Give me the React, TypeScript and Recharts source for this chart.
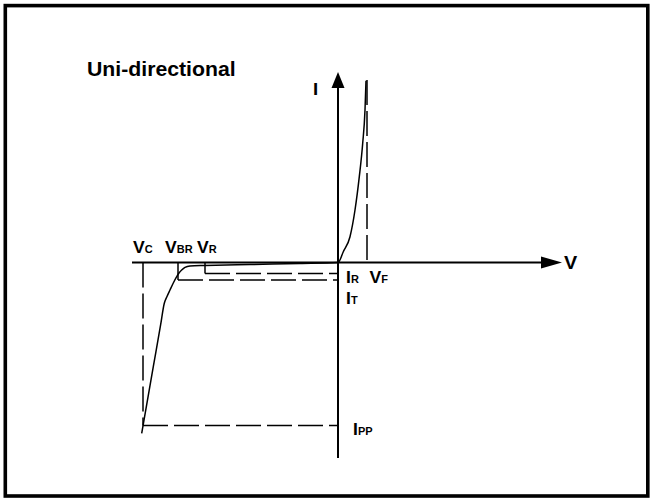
import React from 'react';
import { ComposedChart, Line, XAxis, YAxis, ReferenceLine, ReferenceDot } from 'recharts';

// V-I characteristic curve (arbitrary units)
const curveV = [-19.63, -18.47, -17.74, -17.37, -17.1, -16.8, -16.47, -16.13, -15.9, -15.63, -15.3, -14.8, -13.3, -8.8, -3.8, 0, 0.53, 1.2, 1.7, 2.13, 2.47, 2.7, 2.8];
const curveI = [-17.08, -10.42, -6.24, -4.08, -3.4, -2.75, -2.05, -1.42, -1.05, -0.75, -0.48, -0.35, -0.3, -0.2, -0.1, 0, 1.08, 2.58, 5.25, 8.58, 11.92, 15.25, 18.18];

// characteristic voltages
const V_C = -19.5;
const V_BR = -16.0;
const V_R = -13.3;
const V_F = 2.9;
// characteristic currents
const I_R = -1.1;
const I_T = -1.75;
const I_PP = -16.3;
const I_F = 18.25;

// axis extents and visible domain
const axisV = [-20.6, 22.4];
const axisI = [-19.55, 19.05];
const domainV = [-33.8, 31.3];
const domainI = [-23.55, 26.25];

// label texts
const labelMain = ['V', 'V', 'V', 'V', 'I', 'I', 'I', 'V', 'I'];
const labelSub = ['C', 'BR', 'R', 'F', 'R', 'T', 'PP', '', ''];
const title = 'Uni-directional';

const data = curveV.map((v, k) => ({ v, i: curveI[k] }));

const FONT = "'Liberation Sans', Arial, Helvetica, sans-serif";
const DASH = '25 6';

const hArrow = (len: number, half: number) => (p: any) => {
  const { x1, y1, x2, y2 } = p;
  return (
    <g>
      <line x1={x1} y1={y1} x2={x2 - len + 2} y2={y2} stroke="#000" strokeWidth={2} />
      <polygon points={`${x2},${y2} ${x2 - len},${y2 - half} ${x2 - len},${y2 + half}`} fill="#000" />
    </g>
  );
};

const vArrow = (len: number, half: number) => (p: any) => {
  const { x1, y1, x2, y2 } = p;
  return (
    <g>
      <line x1={x1} y1={y1} x2={x2} y2={y2 + len - 2} stroke="#000" strokeWidth={2} />
      <polygon points={`${x2},${y2} ${x2 - half},${y2 + len} ${x2 + half},${y2 + len}`} fill="#000" />
    </g>
  );
};

const lbl = (idx: number, dx: number, dy: number, size = 16) => (p: any) => (
  <text
    transform={`translate(${p.cx + dx},${p.cy + dy}) scale(1.1,1)`}
    fontFamily={FONT}
    fontWeight="bold"
    fill="#000"
  >
    <tspan fontSize={size}>{labelMain[idx]}</tspan>
    {labelSub[idx] ? <tspan fontSize={10}>{labelSub[idx]}</tspan> : null}
  </text>
);

export default function App() {
  return (
    <div style={{ position: 'absolute', left: 0, top: 0, width: 651, height: 498, background: '#fff' }}>
      <svg width={651} height={498} style={{ position: 'absolute', left: 0, top: 0 }}>
        <rect x={5.3} y={5.6} width={642.5} height={490.4} fill="none" stroke="#000" strokeWidth={3.6} />
        <text transform="translate(87,76) scale(1.09,1)" fontFamily={FONT} fontWeight="bold" fontSize={19.5} fill="#000">
          {title}
        </text>
      </svg>
      <div style={{ position: 'absolute', left: 0, top: 0 }}>
        <ComposedChart width={651} height={498} data={data} margin={{ top: 0, right: 0, bottom: 0, left: 0 }}>
          <XAxis type="number" dataKey="v" domain={domainV} hide allowDataOverflow />
          <YAxis type="number" domain={domainI} hide allowDataOverflow />

          {/* axes */}
          <ReferenceLine segment={[{ x: axisV[0], y: 0 }, { x: axisV[1], y: 0 }]} shape={hArrow(21, 6)} ifOverflow="visible" />
          <ReferenceLine segment={[{ x: 0, y: axisI[0] }, { x: 0, y: axisI[1] }]} shape={vArrow(16, 6.5)} ifOverflow="visible" />

          {/* dashed guides */}
          <ReferenceLine segment={[{ x: V_C, y: 0 }, { x: V_C, y: I_PP }]} stroke="#000" strokeWidth={1.5} strokeDasharray={DASH} />
          <ReferenceLine segment={[{ x: V_C, y: I_PP }, { x: 0, y: I_PP }]} stroke="#000" strokeWidth={1.5} strokeDasharray={DASH} />
          <ReferenceLine segment={[{ x: V_F, y: I_F }, { x: V_F, y: 0 }]} stroke="#000" strokeWidth={1.5} strokeDasharray={DASH} />
          <ReferenceLine segment={[{ x: V_R, y: I_R }, { x: 0, y: I_R }]} stroke="#000" strokeWidth={1.5} strokeDasharray={DASH} />
          <ReferenceLine segment={[{ x: V_BR, y: I_T }, { x: 0, y: I_T }]} stroke="#000" strokeWidth={1.5} strokeDasharray={DASH} />
          {/* solid ticks */}
          <ReferenceLine segment={[{ x: V_R, y: 0 }, { x: V_R, y: I_R }]} stroke="#000" strokeWidth={1.5} />
          <ReferenceLine segment={[{ x: V_BR, y: 0 }, { x: V_BR, y: I_T }]} stroke="#000" strokeWidth={1.5} />

          <Line dataKey="i" type="monotoneX" stroke="#000" strokeWidth={1.5} dot={false} activeDot={false} isAnimationActive={false} />

          {/* labels */}
          <ReferenceDot x={V_C} y={0} r={0} shape={lbl(0, -10, -9.5)} />
          <ReferenceDot x={V_BR} y={0} r={0} shape={lbl(1, -13, -9.5)} />
          <ReferenceDot x={V_R} y={0} r={0} shape={lbl(2, -8, -9.5)} />
          <ReferenceDot x={V_F} y={0} r={0} shape={lbl(3, 2.5, 20)} />
          <ReferenceDot x={0} y={I_R} r={0} shape={lbl(4, 8, 9)} />
          <ReferenceDot x={0} y={I_T} r={0} shape={lbl(5, 8, 24)} />
          <ReferenceDot x={0} y={I_PP} r={0} shape={lbl(6, 15, 9.5)} />
          <ReferenceDot x={axisV[1]} y={0} r={0} shape={lbl(7, 2, 6, 18)} />
          <ReferenceDot x={0} y={axisI[1]} r={0} shape={lbl(8, -25, 23, 17)} />
        </ComposedChart>
      </div>
    </div>
  );
}
